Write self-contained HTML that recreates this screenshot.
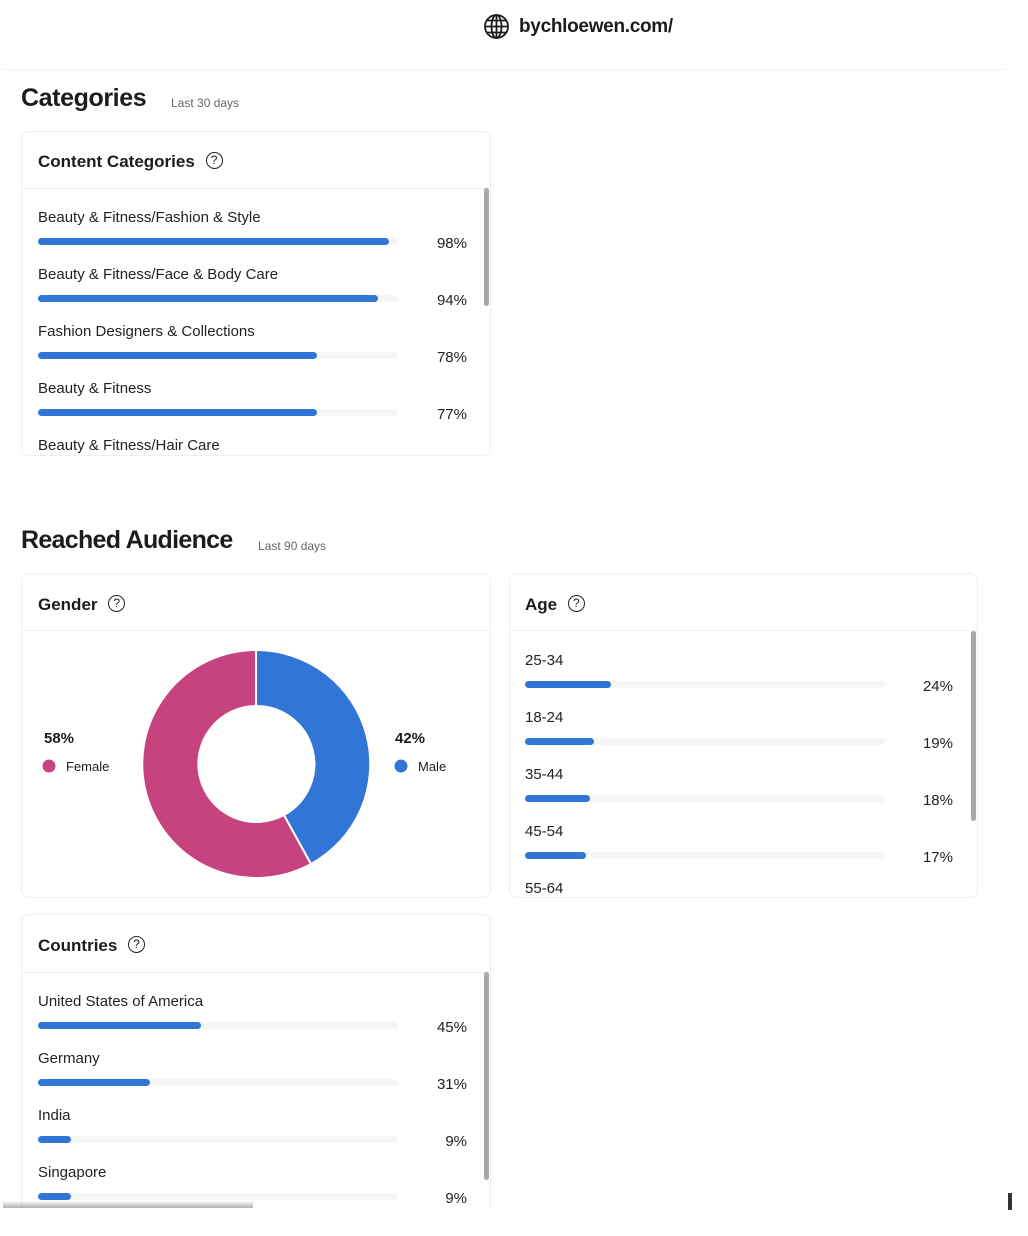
<!DOCTYPE html>
<html><head><meta charset="utf-8"><style>
*{margin:0;padding:0;box-sizing:border-box}
body{width:1028px;height:1236px;background:#fff;font-family:"Liberation Sans",sans-serif;color:#1c1c1c;position:relative;overflow:hidden}
.a{position:absolute}
.card{position:absolute;border:1px solid #efefef;border-radius:8px;background:#fff}
.hl{position:absolute;height:1px;background:#f0f0f0}
.h2{font-size:17px;font-weight:bold}
.q{display:inline-block;width:17px;height:17px;border:1.5px solid #222;border-radius:50%;font-size:12px;text-align:center;line-height:14px;font-weight:normal}
.lbl{position:absolute;font-size:15px;color:#222}
.trk{position:absolute;height:7px;border-radius:4px;background:#f6f6f6}
.bar{position:absolute;left:0;top:0;height:7px;border-radius:4px;background:#3176d6}
.pct{position:absolute;font-size:15px;color:#222;text-align:right;width:60px}
.sb{position:absolute;width:5px;border-radius:3px;background:#a8a8a8}
</style></head><body>
<div class="a" style="left:483px;top:13px;width:27px;height:27px">
<svg width="27" height="27" viewBox="0 0 27 27" fill="none" stroke="#1c1c1c" stroke-width="1.8"><circle cx="13.5" cy="13.5" r="11.5"/><ellipse cx="13.5" cy="13.5" rx="5" ry="11.5"/><line x1="2" y1="13.5" x2="25" y2="13.5"/><line x1="4" y1="7.5" x2="23" y2="7.5"/><line x1="4" y1="19.5" x2="23" y2="19.5"/><line x1="13.5" y1="2" x2="13.5" y2="25"/></svg></div>
<div class="a" style="left:519px;top:16px;font-size:19px;font-weight:bold;color:#1c1c1c;letter-spacing:-0.3px">bychloewen.com/</div>
<div class="hl" style="left:3px;top:69px;width:1002px"></div>

<div class="a" style="left:21px;top:84px;font-size:25px;font-weight:bold;letter-spacing:-0.4px">Categories</div>
<div class="a" style="left:171px;top:96px;font-size:12px;color:#666">Last 30 days</div>

<div class="card" style="left:21px;top:131px;width:470px;height:325px"></div>
<div class="a h2" style="left:38px;top:152px">Content Categories <span class="q" style="margin-left:6px;vertical-align:3px">?</span></div>
<div class="hl" style="left:22px;top:188px;width:468px"></div>
<div class="sb" style="left:484px;top:188px;height:118px"></div>

<div class="lbl" style="left:38px;top:209px">Beauty &amp; Fitness/Fashion &amp; Style</div>
<div class="trk" style="left:38px;top:238px;width:360px"><div class="bar" style="width:351px"></div></div>
<div class="pct" style="left:407px;top:235px">98%</div>
<div class="lbl" style="left:38px;top:266px">Beauty &amp; Fitness/Face &amp; Body Care</div>
<div class="trk" style="left:38px;top:295px;width:360px"><div class="bar" style="width:340px"></div></div>
<div class="pct" style="left:407px;top:292px">94%</div>
<div class="lbl" style="left:38px;top:323px">Fashion Designers &amp; Collections</div>
<div class="trk" style="left:38px;top:352px;width:360px"><div class="bar" style="width:279px"></div></div>
<div class="pct" style="left:407px;top:349px">78%</div>
<div class="lbl" style="left:38px;top:380px">Beauty &amp; Fitness</div>
<div class="trk" style="left:38px;top:409px;width:360px"><div class="bar" style="width:279px"></div></div>
<div class="pct" style="left:407px;top:406px">77%</div>
<div class="lbl" style="left:38px;top:437px">Beauty &amp; Fitness/Hair Care</div>

<div class="a" style="left:21px;top:526px;font-size:25px;font-weight:bold;letter-spacing:-0.7px">Reached Audience</div>
<div class="a" style="left:258px;top:539px;font-size:12px;color:#666">Last 90 days</div>

<div class="card" style="left:21px;top:573px;width:470px;height:325px"></div>
<div class="a h2" style="left:38px;top:595px">Gender <span class="q" style="margin-left:6px;vertical-align:3px">?</span></div>
<div class="hl" style="left:22px;top:630px;width:468px"></div>
<svg class="a" style="left:0;top:0" width="520" height="900">
<path d="M256 650 A114 114 0 1 0 311 864 L284 815 A58 58 0 1 1 256 706 Z" fill="#c7437e" stroke="#fff" stroke-width="2"/>
<path d="M256 650 A114 114 0 0 1 311 864 L284 815 A58 58 0 0 0 256 706 Z" fill="#3176d6" stroke="#fff" stroke-width="2"/>
<circle cx="49" cy="766" r="6.5" fill="#c7437e"/>
<circle cx="401" cy="766" r="6.5" fill="#3176d6"/>
</svg>
<div class="a" style="left:44px;top:730px;font-size:15px;font-weight:bold">58%</div>
<div class="a" style="left:66px;top:759px;font-size:13px">Female</div>
<div class="a" style="left:395px;top:730px;font-size:15px;font-weight:bold">42%</div>
<div class="a" style="left:418px;top:759px;font-size:13px">Male</div>

<div class="card" style="left:509px;top:573px;width:469px;height:325px"></div>
<div class="a h2" style="left:525px;top:595px">Age <span class="q" style="margin-left:6px;vertical-align:3px">?</span></div>
<div class="hl" style="left:510px;top:630px;width:467px"></div>
<div class="sb" style="left:971px;top:631px;height:190px"></div>
<div class="lbl" style="left:525px;top:652px">25-34</div>
<div class="trk" style="left:525px;top:681px;width:360px"><div class="bar" style="width:86px"></div></div>
<div class="pct" style="left:893px;top:678px">24%</div>
<div class="lbl" style="left:525px;top:709px">18-24</div>
<div class="trk" style="left:525px;top:738px;width:360px"><div class="bar" style="width:69px"></div></div>
<div class="pct" style="left:893px;top:735px">19%</div>
<div class="lbl" style="left:525px;top:766px">35-44</div>
<div class="trk" style="left:525px;top:795px;width:360px"><div class="bar" style="width:65px"></div></div>
<div class="pct" style="left:893px;top:792px">18%</div>
<div class="lbl" style="left:525px;top:823px">45-54</div>
<div class="trk" style="left:525px;top:852px;width:360px"><div class="bar" style="width:61px"></div></div>
<div class="pct" style="left:893px;top:849px">17%</div>
<div class="lbl" style="left:525px;top:880px">55-64</div>

<div class="card" style="left:21px;top:914px;width:470px;height:300px;border-bottom:none"></div>
<div class="a h2" style="left:38px;top:936px">Countries <span class="q" style="margin-left:6px;vertical-align:3px">?</span></div>
<div class="hl" style="left:22px;top:972px;width:468px"></div>
<div class="sb" style="left:484px;top:972px;height:208px"></div>
<div class="lbl" style="left:38px;top:993px">United States of America</div>
<div class="trk" style="left:38px;top:1022px;width:360px"><div class="bar" style="width:163px"></div></div>
<div class="pct" style="left:407px;top:1019px">45%</div>
<div class="lbl" style="left:38px;top:1050px">Germany</div>
<div class="trk" style="left:38px;top:1079px;width:360px"><div class="bar" style="width:112px"></div></div>
<div class="pct" style="left:407px;top:1076px">31%</div>
<div class="lbl" style="left:38px;top:1107px">India</div>
<div class="trk" style="left:38px;top:1136px;width:360px"><div class="bar" style="width:33px"></div></div>
<div class="pct" style="left:407px;top:1133px">9%</div>
<div class="lbl" style="left:38px;top:1164px">Singapore</div>
<div class="trk" style="left:38px;top:1193px;width:360px"><div class="bar" style="width:33px"></div></div>
<div class="pct" style="left:407px;top:1190px">9%</div>

<div class="a" style="left:0;top:1208px;width:1028px;height:28px;background:#fff;z-index:5"></div>
<div class="a" style="left:3px;top:1201px;width:250px;height:7px;background:linear-gradient(to bottom,rgba(255,255,255,0),rgba(120,120,120,.6));z-index:6"></div>
<div class="a" style="left:1008px;top:1193px;width:4px;height:17px;background:#333;z-index:6"></div>
</body></html>
